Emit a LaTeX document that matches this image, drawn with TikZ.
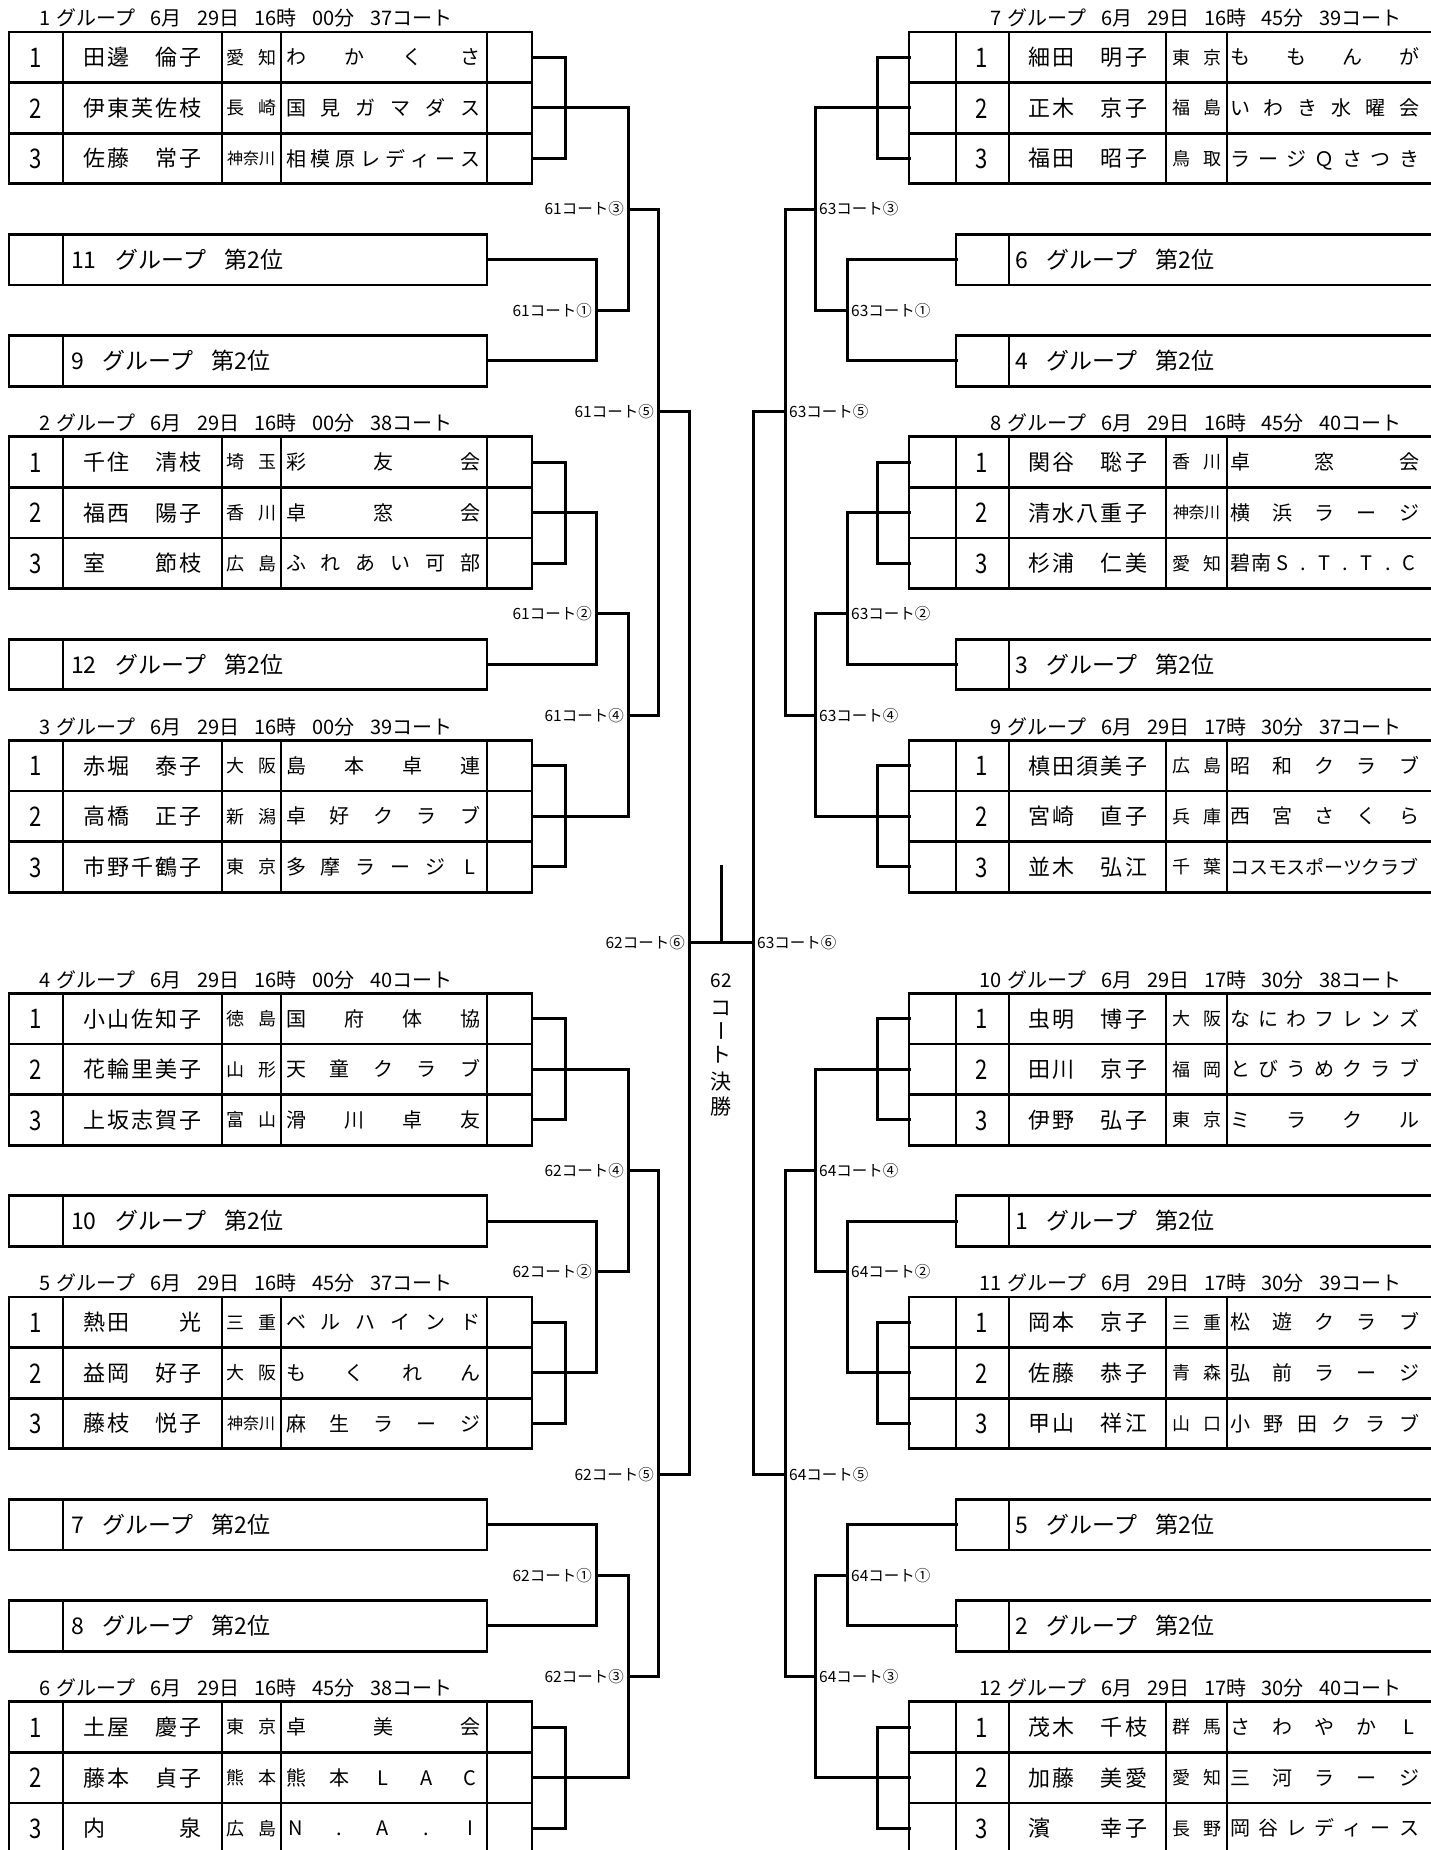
\documentclass[tikz,border=0pt]{standalone}
\usepackage{fontspec}
\setmainfont{Noto Sans CJK JP}
\newfontfamily\jpn[FakeStretch=0.82]{Noto Sans CJK JP}
\newcount\nodecnt
\tikzset{
  nn/.code={\global\advance\nodecnt by 1\relax\pgfkeysalso{name=t\the\nodecnt}},
  c27/.style={nn,inner sep=0pt,font=\jpn\fontsize{27}{27}\selectfont,text height=23.76pt,text depth=3.24pt},
  c23/.style={nn,inner sep=0pt,font=\fontsize{23}{23}\selectfont,text height=20.24pt,text depth=2.76pt},
  c22/.style={nn,inner sep=0pt,font=\fontsize{22}{22}\selectfont,text height=19.36pt,text depth=2.64pt},
  c21/.style={nn,inner sep=0pt,font=\fontsize{21}{21}\selectfont,text height=18.48pt,text depth=2.52pt},
  c20/.style={nn,inner sep=0pt,font=\fontsize{20}{20}\selectfont,text height=17.6pt,text depth=2.4pt},
  c19/.style={nn,inner sep=0pt,font=\fontsize{19}{19}\selectfont,text height=16.72pt,text depth=2.28pt},
  c18/.style={nn,inner sep=0pt,font=\fontsize{18}{18}\selectfont,text height=15.84pt,text depth=2.16pt},
  c16/.style={nn,inner sep=0pt,font=\fontsize{16}{16}\selectfont,text height=14.08pt,text depth=1.92pt},
  c15/.style={nn,inner sep=0pt,font=\fontsize{15.5}{15.5}\selectfont,text height=13.64pt,text depth=1.86pt},
  br/.style={line width=3pt,line join=miter,line cap=rect},
  tk/.style={line width=2.8pt,line join=miter},
  tn/.style={line width=1.2pt},
  labl/.style={c15,anchor=east,xshift=-4pt},
  labr/.style={c15,anchor=west,xshift=4pt}
}
% distribute items evenly: #1 first centre x, #2 last centre x, #3 y, #4 style, #5 list
\newcommand\dist[5]{%
  \xdef\dcnt{0}%
  \foreach \itm in {#5}{\xdef\dcnt{\the\numexpr\dcnt+1\relax}}%
  \foreach \itm [count=\ii from 0] in {#5}{%
    \pgfmathsetmacro\xx{#1+(#2-#1)*\ii/max(\dcnt-1,1)}%
    \node[#4] at (\xx,#3) {\itm};}%
}
\makeatletter
\newcommand\prefdist[4]{%
  \in@{　}{#4}%
  \ifin@\dist{#1}{#2}{#3}{c18}{#4}\else\dist{#1}{#2}{#3}{c16}{#4}\fi
}
\makeatother
\newcommand\LRow[5]{%
  \pgfmathsetmacro\yy{#1+#2-0.5}%
  \node[c27] at (36,\yy) {#2};
  \dist{94}{190}{\yy}{c22}{#3}%
  \prefdist{235}{267}{\yy}{#4}%
  \dist{296}{470}{\yy}{c20}{#5}%
}
\newcommand\RRow[6][c20]{%
  \pgfmathsetmacro\yy{#2+#3-0.5}%
  \node[c27] at (982,\yy) {#3};
  \dist{1039}{1136}{\yy}{c22}{#4}%
  \prefdist{1181}{1212}{\yy}{#5}%
  \dist{1240}{1409}{\yy}{#1}{#6}%
}
% frame: #1 row, #2 group number, #3 hour, #4 minute, #5 court, #6 winner port name
\newcommand\LFrame[6]{%
  \draw[tk] (9,#1) rectangle (532,#1+3);
  \draw[tk] (9,#1+1) -- (532,#1+1) (9,#1+2) -- (532,#1+2) (63,#1) -- (63,#1+3) (487,#1) -- (487,#1+3);
  \draw[tn] (222,#1) -- (222,#1+3) (281,#1) -- (281,#1+3);
  \draw[br] (532,#1+0.5) -| (565,#1+1.5) |- (532,#1+2.5);
  \coordinate (#6) at (532,#1+1.5);
  \node[c20,anchor=east] at (51,#1-0.27) {#2};
  \node[c20,anchor=west] at (56,#1-0.27) {\makebox[396pt][s]{グループ\hfill 6月\hfill 29日\hfill #3\hfill #4\hfill #5}};
}
\newcommand\RFrame[6]{%
  \draw[tk] (909,#1) rectangle (1435,#1+3);
  \draw[tk] (909,#1+1) -- (1435,#1+1) (909,#1+2) -- (1435,#1+2) (956,#1) -- (956,#1+3) (1009,#1) -- (1009,#1+3);
  \draw[tn] (1166,#1) -- (1166,#1+3) (1227,#1) -- (1227,#1+3);
  \draw[br] (909,#1+0.5) -| (877,#1+1.5) |- (909,#1+2.5);
  \coordinate (#6) at (909,#1+1.5);
  \node[c20,anchor=east] at (1002,#1-0.27) {#2};
  \node[c20,anchor=west] at (1007,#1-0.27) {\makebox[394pt][s]{グループ\hfill 6月\hfill 29日\hfill #3\hfill #4\hfill #5}};
}
\newcommand\LBox[3]{%
  \draw[tk] (9,#1) rectangle (487,#1+1) (63,#1) -- (63,#1+1);
  \node[c23,anchor=west] at (71,#1+0.5) {#2\hspace{19pt}グループ\hspace{18pt}第2位};
  \coordinate (#3) at (487,#1+0.5);
}
\newcommand\RBox[3]{%
  \draw[tk] (956,#1) rectangle (1435,#1+1) (1009,#1) -- (1009,#1+1);
  \node[c23,anchor=west] at (1015,#1+0.5) {#2\hspace{19pt}グループ\hspace{18pt}第2位};
  \coordinate (#3) at (956,#1+0.5);
}
\begin{document}
\begin{tikzpicture}[x=1pt,y=-50.6pt]
\fill[white] (0,-0.632411) rectangle (1430,35.928854);
\useasboundingbox (0,-0.632411) rectangle (1430,35.928854);

% ---------------- left side ----------------
\LFrame{0}{1}{16時}{00分}{37コート}{g1}
\LRow{0}{1}{田,邊,　,倫,子}{愛,　,知}{わ,か,く,さ}
\LRow{0}{2}{伊,東,芙,佐,枝}{長,　,崎}{国,見,ガ,マ,ダ,ス}
\LRow{0}{3}{佐,藤,　,常,子}{神,奈,川}{相,模,原,レ,デ,ィ,ー,ス}
\LBox{4}{11}{x11}
\LBox{6}{9}{x9}
\LFrame{8}{2}{16時}{00分}{38コート}{g2}
\LRow{8}{1}{千,住,　,清,枝}{埼,　,玉}{彩,友,会}
\LRow{8}{2}{福,西,　,陽,子}{香,　,川}{卓,窓,会}
\LRow{8}{3}{室,　,　,節,枝}{広,　,島}{ふ,れ,あ,い,可,部}
\LBox{12}{12}{x12}
\LFrame{14}{3}{16時}{00分}{39コート}{g3}
\LRow{14}{1}{赤,堀,　,泰,子}{大,　,阪}{島,本,卓,連}
\LRow{14}{2}{高,橋,　,正,子}{新,　,潟}{卓,好,ク,ラ,ブ}
\LRow{14}{3}{市,野,千,鶴,子}{東,　,京}{多,摩,ラ,ー,ジ,L}
\LFrame{19}{4}{16時}{00分}{40コート}{g4}
\LRow{19}{1}{小,山,佐,知,子}{徳,　,島}{国,府,体,協}
\LRow{19}{2}{花,輪,里,美,子}{山,　,形}{天,童,ク,ラ,ブ}
\LRow{19}{3}{上,坂,志,賀,子}{富,　,山}{滑,川,卓,友}
\LBox{23}{10}{x10}
\LFrame{25}{5}{16時}{45分}{37コート}{g5}
\LRow{25}{1}{熱,田,　,　,光}{三,　,重}{ベ,ル,ハ,イ,ン,ド}
\LRow{25}{2}{益,岡,　,好,子}{大,　,阪}{も,く,れ,ん}
\LRow{25}{3}{藤,枝,　,悦,子}{神,奈,川}{麻,生,ラ,ー,ジ}
\LBox{29}{7}{x7}
\LBox{31}{8}{x8}
\LFrame{33}{6}{16時}{45分}{38コート}{g6}
\LRow{33}{1}{土,屋,　,慶,子}{東,　,京}{卓,美,会}
\LRow{33}{2}{藤,本,　,貞,子}{熊,　,本}{熊,本,L,A,C}
\LRow{33}{3}{内,　,　,　,泉}{広,　,島}{N,.,A,.,I}

% ---------------- right side ----------------
\RFrame{0}{7}{16時}{45分}{39コート}{g7}
\RRow{0}{1}{細,田,　,明,子}{東,　,京}{も,も,ん,が}
\RRow{0}{2}{正,木,　,京,子}{福,　,島}{い,わ,き,水,曜,会}
\RRow{0}{3}{福,田,　,昭,子}{鳥,　,取}{ラ,ー,ジ,Ｑ,さ,つ,き}
\RBox{4}{6}{x6}
\RBox{6}{4}{x4}
\RFrame{8}{8}{16時}{45分}{40コート}{g8}
\RRow{8}{1}{関,谷,　,聡,子}{香,　,川}{卓,窓,会}
\RRow{8}{2}{清,水,八,重,子}{神,奈,川}{横,浜,ラ,ー,ジ}
\RRow{8}{3}{杉,浦,　,仁,美}{愛,　,知}{碧,南,S,.,T,.,T,.,C}
\RBox{12}{3}{x3}
\RFrame{14}{9}{17時}{30分}{37コート}{g9}
\RRow{14}{1}{槙,田,須,美,子}{広,　,島}{昭,和,ク,ラ,ブ}
\RRow{14}{2}{宮,崎,　,直,子}{兵,　,庫}{西,宮,さ,く,ら}
\RRow[c19]{14}{3}{並,木,　,弘,江}{千,　,葉}{コ,ス,モ,ス,ポ,ー,ツ,ク,ラ,ブ}
\RFrame{19}{10}{17時}{30分}{38コート}{g10}
\RRow{19}{1}{虫,明,　,博,子}{大,　,阪}{な,に,わ,フ,レ,ン,ズ}
\RRow{19}{2}{田,川,　,京,子}{福,　,岡}{と,び,う,め,ク,ラ,ブ}
\RRow{19}{3}{伊,野,　,弘,子}{東,　,京}{ミ,ラ,ク,ル}
\RBox{23}{1}{x1}
\RFrame{25}{11}{17時}{30分}{39コート}{g11}
\RRow{25}{1}{岡,本,　,京,子}{三,　,重}{松,遊,ク,ラ,ブ}
\RRow{25}{2}{佐,藤,　,恭,子}{青,　,森}{弘,前,ラ,ー,ジ}
\RRow{25}{3}{甲,山,　,祥,江}{山,　,口}{小,野,田,ク,ラ,ブ}
\RBox{29}{5}{x5}
\RBox{31}{2}{x2}
\RFrame{33}{12}{17時}{30分}{40コート}{g12}
\RRow{33}{1}{茂,木,　,千,枝}{群,　,馬}{さ,わ,や,か,L}
\RRow{33}{2}{加,藤,　,美,愛}{愛,　,知}{三,河,ラ,ー,ジ}
\RRow{33}{3}{濱,　,　,幸,子}{長,　,野}{岡,谷,レ,デ,ィ,ー,ス}

% ---------------- match points ----------------
\coordinate (m611) at (596,5.5);
\coordinate (m613) at (628,3.5);
\coordinate (m612) at (596,11.5);
\coordinate (m614) at (628,13.5);
\coordinate (m615) at (658,7.5);
\coordinate (m622) at (596,24.5);
\coordinate (m624) at (628,22.5);
\coordinate (m621) at (596,30.5);
\coordinate (m623) at (628,32.5);
\coordinate (m625) at (658,28.5);
\coordinate (m626) at (689,18);
\coordinate (m631) at (847,5.5);
\coordinate (m633) at (815,3.5);
\coordinate (m632) at (847,11.5);
\coordinate (m634) at (815,13.5);
\coordinate (m635) at (785,7.5);
\coordinate (m642) at (847,24.5);
\coordinate (m644) at (815,22.5);
\coordinate (m641) at (847,30.5);
\coordinate (m643) at (815,32.5);
\coordinate (m645) at (785,28.5);
\coordinate (m636) at (753,18);
\coordinate (stub) at (721,16.5);

% ---------------- connectors ----------------
\draw[br] (x11) -| (m611) |- (x9);
\draw[br] (g1) -| (m613) |- (m611);
\draw[br] (g2) -| (m612) |- (x12);
\draw[br] (m612) -| (m614) |- (g3);
\draw[br] (m613) -| (m615) |- (m614);
\draw[br] (g4) -| (m624) |- (m622);
\draw[br] (x10) -| (m622) |- (g5);
\draw[br] (x7) -| (m621) |- (x8);
\draw[br] (m621) -| (m623) |- (g6);
\draw[br] (m624) -| (m625) |- (m623);
\draw[br] (m615) -| (m626) |- (m625);
\draw[br] (x6) -| (m631) |- (x4);
\draw[br] (g7) -| (m633) |- (m631);
\draw[br] (g8) -| (m632) |- (x3);
\draw[br] (m632) -| (m634) |- (g9);
\draw[br] (m633) -| (m635) |- (m634);
\draw[br] (g10) -| (m644) |- (m642);
\draw[br] (x1) -| (m642) |- (g11);
\draw[br] (x5) -| (m641) |- (x2);
\draw[br] (m641) -| (m643) |- (g12);
\draw[br] (m644) -| (m645) |- (m643);
\draw[br] (m635) -| (m636) |- (m645);
\draw[br] (m626) -- (m636);
\draw[br] (stub) -- (stub |- m626);

% ---------------- labels ----------------
\node[labl] at (m611) {61コート①};
\node[labl] at (m613) {61コート③};
\node[labl] at (m612) {61コート②};
\node[labl] at (m614) {61コート④};
\node[labl] at (m615) {61コート⑤};
\node[labl] at (m622) {62コート②};
\node[labl] at (m624) {62コート④};
\node[labl] at (m621) {62コート①};
\node[labl] at (m623) {62コート③};
\node[labl] at (m625) {62コート⑤};
\node[labl] at (m626) {62コート⑥};
\node[labr] at (m631) {63コート①};
\node[labr] at (m633) {63コート③};
\node[labr] at (m632) {63コート②};
\node[labr] at (m634) {63コート④};
\node[labr] at (m635) {63コート⑤};
\node[labr] at (m642) {64コート②};
\node[labr] at (m644) {64コート④};
\node[labr] at (m641) {64コート①};
\node[labr] at (m643) {64コート③};
\node[labr] at (m645) {64コート⑤};
\node[labr] at (m636) {63コート⑥};

% ---------------- final caption (vertical) ----------------
\node[c19] (fin1) at (721,18.735) {62};
\node[c21] (fin2) at (721,19.269) {コ};
\node[c21,rotate=-90] (fin3) at (721,19.743) {ー};
\node[c21] (fin4) at (721,20.217) {ト};
\node[c21] (fin5) at (721,20.751) {決};
\node[c21] (fin6) at (721,21.245) {勝};
\end{tikzpicture}
\end{document}
